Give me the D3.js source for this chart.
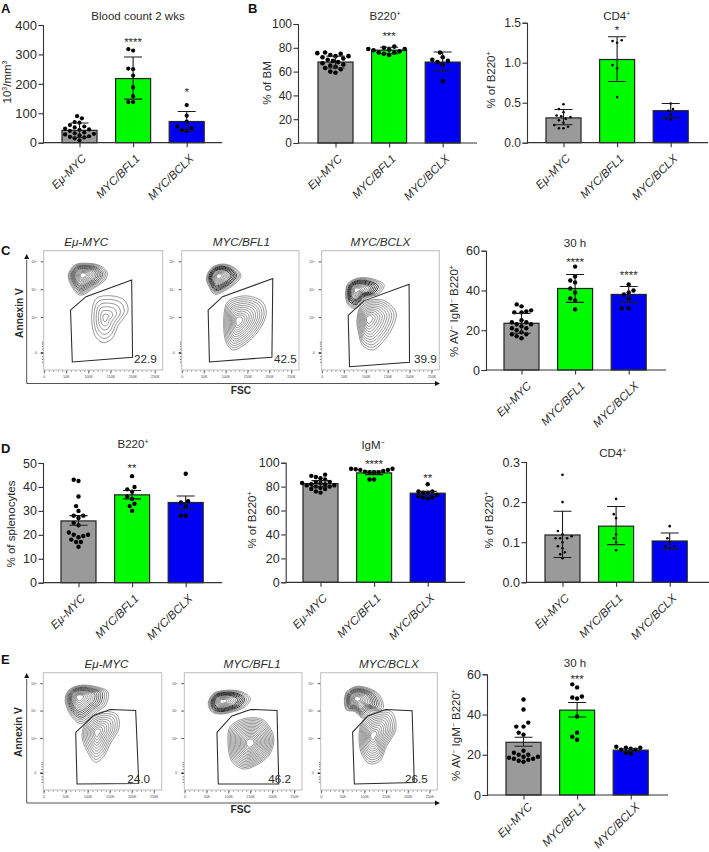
<!DOCTYPE html>
<html><head><meta charset="utf-8">
<script src="https://cdn.jsdelivr.net/npm/d3@7"></script>
<style>html,body{margin:0;padding:0;background:#fff}svg{display:block}text{font-family:"Liberation Sans",Arial,sans-serif;fill:#2a2a2a}</style>
</head><body><svg id="c" width="709" height="852"></svg>
<script>
// ---------- bar chart data ----------
const categories=["Eμ-MYC","MYC/BFL1","MYC/BCLX"];
const barColors=["#9a9a9a","#00fa00","#0000f5"];

const aMean=[42,218,72], aLow=[18,148,40], aHigh=[67,291,106];
const aGray=[90,83,70,68,60,55,52,48,45,44,40,35,32,30,28,25,22,20,18,15,8];
const aGreen=[318,313,252,250,228,188,158,138,138];
const aBlue=[128,92,72,55,50,42,40];

const b1Mean=[68,78,68], b1Low=[63,75,60.5], b1High=[73,80.5,76.5];
const b1Gray=[76,75.5,75,74,73,73,72,71,70,69,68,67,66,65,64,63,62,60,59];
const b1Green=[81,80,79,79,78.5,78,77,76,76,75,74];
const b1Blue=[76,72,70,69,68,66,52];

const b2Mean=[0.31,1.04,0.40], b2Low=[0.225,0.765,0.31], b2High=[0.415,1.325,0.49];
const b2Gray=[0.48,0.42,0.38,0.34,0.33,0.32,0.30,0.28,0.25,0.22,0.2,0.18,0.18];
const b2Green=[1.28,1.27,1.25,0.97,0.93,0.57];
const b2Blue=[0.49,0.42,0.40,0.35,0.30,0.29];

const cMean=[23.5,41,38], cLow=[18.5,34,34], cHigh=[28.5,48,42];
const cGray=[33,32,30,29.5,29,29,25,24,24,23,23,22,21,21,20,19,18,18,17,16];
const cGreen=[52,47,45,44,41,39,36,35,30.5];
const cBlue=[43,40,39,38,36,31,31];

const d1Mean=[25.8,36.7,33.5], d1Low=[24,35,31], d1High=[28,38.5,36.2];
const d1Gray=[43,42.5,36,32,30,28,28,27,25,24,21,20,20,19.5,19,18,17,17,15];
const d1Green=[44.5,40,39,38,36,35,33,32,30];
const d1Blue=[45.5,34,33.5,32,28,28];

const d2Mean=[82.5,91.5,74.5], d2Low=[80,90,73], d2High=[85,93,76];
const d2Gray=[90,89,88,87,86,84,84,83,83,82,82,81,81,80,80,79,78,78,76,75];
const d2Green=[95,95,94.5,94,94,93,92.5,92,92,92,86,86];
const d2Blue=[82,76,76,75,75,73,72,71,71,70];

const d3Mean=[0.118,0.14,0.103], d3Low=[0.062,0.094,0.084], d3High=[0.177,0.189,0.123];
const d3Gray=[0.268,0.2,0.128,0.12,0.115,0.11,0.11,0.11,0.10,0.09,0.085,0.075,0.07,0.06];
const d3Green=[0.208,0.17,0.16,0.12,0.11,0.10,0.08];
const d3Blue=[0.14,0.11,0.10,0.09,0.09,0.085];

const eMean=[26.2,42.2,22.3], eLow=[24.2,38.8,21.5], eHigh=[28.7,46,23];
const eGray=[47.5,42.5,36,34,34,31,30,22,21,20,20,19,19,18.5,18,18,17.5,17,16.5];
const eGreen=[55,53.5,49,48.5,48,39,31,29,27.5];
const eBlue=[24,23.5,23.5,23,22.5,22.5,21,20.5];

// ---------- flow cytometry data: [FSC in K, log10 Annexin V] ----------
const fscTicks=[0,50,100,150,200,250];
const fscTickLabels=["0","50K","100K","150K","200K","250K"];
const avTicks=[5,4,3,1.73];

const c1Gate=[[59,3.27],[94,3.75],[197,4.35],[199,1.58],[63,1.41]];
const c1Up=[[54,4.53],[69,4.89],[97,4.95],[126,4.86],[142,4.61],[137,4.35],[111,4.05],[80,3.81],[62,4.11]];
const c1UpC=[86,4.53];
const c1Lo=[[107,3.14],[118,3.69],[152,3.78],[180,3.63],[189,3.27],[167,2.72],[152,2.24],[133,2.10],[114,2.36]];
const c1LoC=[137,3.0];

const c2Gate=[[59,3.27],[92,3.75],[207,4.4],[205,1.58],[62,1.41]];
const c2Up=[[55,4.41],[66,4.77],[89,4.92],[115,4.83],[134,4.53],[126,4.29],[100,3.99],[74,3.84],[61,4.11]];
const c2UpC=[83,4.5];
const c2Lo=[[95,3.02],[104,3.57],[145,3.78],[183,3.57],[192,3.14],[175,2.54],[145,2.06],[115,1.84],[100,2.12]];
const c2LoC=[128,2.88];

const c3Gate=[[59,3.08],[95,3.6],[198,4.2],[199,1.4],[62,1.24]];
const c3Up=[[53,3.87],[59,4.23],[85,4.43],[123,4.35],[141,4.17],[130,3.87],[100,3.69],[77,3.33],[59,3.45]];
const c3UpC=[77,3.99];
const c3Lo=[[79,2.96],[92,3.51],[138,3.63],[168,3.2],[164,2.78],[141,2.18],[115,1.84],[92,2.0],[83,2.42]];
const c3LoC=[105,2.96];

const e1Gate=[[72,3.22],[113,3.84],[150,4.06],[208,4.02],[215,1.36],[75,1.34]];
const e1Up=[[48,4.4],[56,4.76],[82,4.94],[121,4.88],[145,4.7],[140,4.22],[121,3.98],[105,3.74],[82,3.55],[60,3.86]];
const e1UpC=[79,4.52];
const e1Lo=[[86,3.13],[99,3.67],[136,3.98],[166,3.86],[170,3.37],[151,2.83],[136,2.35],[117,2.13],[98,2.53]];
const e1LoC=[120,3.23];

const e2Gate=[[73,3.22],[107,3.82],[150,4.06],[210,4.02],[214,1.34],[76,1.34]];
const e2Up=[[53,4.28],[65,4.64],[95,4.76],[130,4.7],[149,4.46],[137,4.16],[111,3.98],[80,3.89],[61,3.98]];
const e2UpC=[85,4.36];
const e2Lo=[[98,2.95],[103,3.43],[137,3.73],[179,3.67],[202,3.07],[195,2.47],[172,2.11],[134,1.89],[107,2.17]];
const e2LoC=[149,2.83];

const e3Gate=[[72,3.23],[107,3.82],[148,4.06],[209,4.01],[214,1.39],[76,1.34]];
const e3Up=[[53,4.34],[58,4.7],[81,4.9],[111,4.82],[134,4.58],[142,4.1],[115,3.98],[96,3.74],[77,3.98],[58,4.04]];
const e3UpC=[81,4.46];
const e3Lo=[[87,3.19],[96,3.67],[127,3.98],[161,3.98],[172,3.37],[150,2.71],[134,2.17],[111,2.08],[92,2.47]];
const e3LoC=[119,3.11];

// ---------- drawing ----------
const svg=d3.select("#c");

function rich(sel,parts,base){
  parts.forEach(p=>{
    const t=sel.append("tspan").text(p.t);
    if(p.sup){t.attr("font-size",base*0.6).attr("dy",-base*0.35);}
    else if(p.after){t.attr("dy",base*0.35);}
  });
}
const sup=(t)=>({t,sup:true});
const nrm=(t)=>({t,after:true});

function swarm(vals,y,x0,sep){
  const placed=[];
  [...vals].sort((a,b)=>a-b).forEach(v=>{
    const py=y(v);
    let off=0,k=0;
    while(placed.some(p=>Math.hypot(p.x-(x0+off),p.y-py)<sep)){
      k++; off=(k%2?-1:1)*Math.ceil(k/2)*sep*0.5;
    }
    placed.push({x:x0+off,y:py});
  });
  return placed;
}

function barPanel(o){
  const g=svg.append("g");
  const y=d3.scaleLinear().domain(o.domain).range([o.y0,o.yTop]);
  const step=o.step||53.6;
  const x=d3.scalePoint().domain(categories).range([o.c,o.c+2*step]);
  const bw=35, fs=o.fs||11.5;

  categories.forEach((c,i)=>{
    g.append("rect").attr("x",x(c)-bw/2).attr("width",bw)
      .attr("y",y(o.mean[i])).attr("height",o.y0-y(o.mean[i]))
      .attr("fill",barColors[i]).attr("stroke","#222").attr("stroke-width",1.2);
  });
  const ya=g.append("g").attr("transform",`translate(${o.ax},0)`)
    .call(d3.axisLeft(y).tickValues(o.ticks).tickFormat(o.fmt).tickSize(4.5).tickPadding(1.5));
  ya.selectAll("text").attr("font-size",fs).style("font-family",'"Liberation Sans"');
  ya.selectAll("line,path").attr("stroke","#333").attr("stroke-width",1.1);
  const xa=g.append("g").attr("transform",`translate(0,${o.y0})`)
    .call(d3.axisBottom(x).tickSize(4.5));
  xa.select(".domain").remove();
  xa.selectAll("line").attr("stroke","#333").attr("stroke-width",1.1);
  xa.selectAll("text").attr("font-size",11.5).attr("font-style","italic")
    .attr("text-anchor","end").attr("dy",0).attr("y",0)
    .attr("transform",`translate(${7+(o.ldx||0)},${16.5+(o.ldy||0)}) rotate(-45)`);
  g.append("line").attr("x1",o.ax).attr("x2",o.xEnd).attr("y1",o.y0).attr("y2",o.y0)
    .attr("stroke","#333").attr("stroke-width",1.2);
  categories.forEach((c,i)=>{
    swarm(o.pts[i],y,x(c),o.sep).forEach(p=>{
      g.append("circle").attr("cx",p.x).attr("cy",p.y).attr("r",o.r).attr("fill","#000");
    });
  });
  categories.forEach((c,i)=>{
    const cap=9, xc=x(c);
    g.append("path").attr("fill","none").attr("stroke","#1a1a1a").attr("stroke-width",1.1)
      .attr("d",`M${xc-cap},${y(o.high[i])}H${xc+cap}M${xc},${y(o.high[i])}V${y(o.low[i])}M${xc-cap},${y(o.low[i])}H${xc+cap}`);
  });
  (o.sig||[]).forEach(s=>{
    g.append("text").attr("x",x(categories[s[0]])).attr("y",s[2]+6.5)
      .attr("text-anchor","middle").attr("font-size",11.5).text(s[1]);
  });
  const t=g.append("text").attr("x",o.tx).attr("y",o.ty).attr("text-anchor","middle").attr("font-size",11.5);
  rich(t,o.title,11.5);
  const yl=g.append("text").attr("text-anchor","middle").attr("font-size",11.5)
    .attr("transform",`translate(${o.lx},${o.ly}) rotate(-90)`);
  rich(yl,o.label,11.5);
}

barPanel({mean:aMean,low:aLow,high:aHigh,pts:[aGray,aGreen,aBlue],domain:[0,400],ticks:[0,100,200,300,400],
  ax:43,xEnd:222,y0:142.7,yTop:25,c:79.5,r:2.1,sep:4.8,fs:13,
  sig:[[1,"****",39],[2,"*",89]],title:[{t:"Blood count 2 wks"}],tx:138,ty:20,
  label:[{t:"10"},sup("3"),nrm("/mm"),sup("3")],lx:11,ly:82});
barPanel({mean:b1Mean,low:b1Low,high:b1High,pts:[b1Gray,b1Green,b1Blue],domain:[0,100],ticks:[0,20,40,60,80,100],
  ax:298,xEnd:477,y0:143,yTop:24,c:335.5,r:2.3,sep:5.2,fs:12,
  sig:[[1,"***",33]],title:[{t:"B220"},sup("+")],tx:385,ty:20,
  label:[{t:"% of BM"}],lx:271,ly:83});
barPanel({mean:b2Mean,low:b2Low,high:b2High,pts:[b2Gray,b2Green,b2Blue],domain:[0,1.5],ticks:[0,0.5,1,1.5],fmt:d3.format(".1f"),
  ax:527,xEnd:708,y0:142.7,yTop:22.7,c:563.5,r:1.3,sep:4.6,fs:12,
  sig:[[1,"*",27]],title:[{t:"CD4"},sup("+")],tx:616.7,ty:20,
  label:[{t:"% of B220"},sup("+")],lx:495,ly:80});
barPanel({mean:cMean,low:cLow,high:cHigh,pts:[cGray,cGreen,cBlue],domain:[0,60],ticks:[0,20,40,60],
  ax:486,xEnd:666,y0:370,yTop:250.7,c:521.5,r:2.2,sep:4.8,fs:12.5,ldx:3,
  sig:[[1,"****",259],[2,"****",272]],title:[{t:"30 h"}],tx:575,ty:247,
  label:[{t:"% AV"},sup("−"),nrm(" IgM"),sup("−"),nrm(" B220"),sup("+")],lx:458,ly:311});
barPanel({mean:d1Mean,low:d1Low,high:d1High,pts:[d1Gray,d1Green,d1Blue],domain:[0,50],ticks:[0,10,20,30,40,50],
  ax:43,xEnd:222,y0:582.7,yTop:463,c:78.5,r:2.2,sep:4.8,fs:12.5,
  sig:[[1,"**",465]],title:[{t:"B220"},sup("+")],tx:133,ty:448,
  label:[{t:"% of splenocytes"}],lx:15,ly:524});
barPanel({mean:d2Mean,low:d2Low,high:d2High,pts:[d2Gray,d2Green,d2Blue],domain:[0,100],ticks:[0,20,40,60,80,100],
  ax:285.7,xEnd:465,y0:582.3,yTop:462.7,c:320.5,r:2.2,sep:4.6,fs:12.5,
  sig:[[1,"****",461],[2,"**",475]],title:[{t:"IgM"},sup("−")],tx:373,ty:449,
  label:[{t:"% of B220"},sup("+")],lx:256,ly:520});
barPanel({mean:d3Mean,low:d3Low,high:d3High,pts:[d3Gray,d3Green,d3Blue],domain:[0,0.3],ticks:[0,0.1,0.2,0.3],fmt:d3.format(".1f"),
  ax:526,xEnd:709,y0:582.3,yTop:462,c:562.5,r:1.3,sep:4.6,fs:12.5,
  title:[{t:"CD4"},sup("+")],tx:612.7,ty:457,
  label:[{t:"% of B220"},sup("+")],lx:493,ly:520});
barPanel({mean:eMean,low:eLow,high:eHigh,pts:[eGray,eGreen,eBlue],domain:[0,60],ticks:[0,20,40,60],
  ax:487,xEnd:668,y0:795,yTop:674.3,c:523.5,r:2.2,sep:4.8,fs:12.5,ldx:2,ldy:-4,
  sig:[[1,"***",676]],title:[{t:"30 h"}],tx:575,ty:667,
  label:[{t:"% AV"},sup("−"),nrm(" IgM"),sup("−"),nrm(" B220"),sup("+")],lx:460,ly:735});

function flow(o){
  const g=svg.append("g");
  const x=d3.scaleLinear().domain([-1.5,267]).range([o.l,o.r]);
  const y=d3.scaleLinear().domain([1.12,5.4]).range([o.b,o.t]);
  g.append("rect").attr("x",o.l).attr("y",o.t).attr("width",o.r-o.l).attr("height",o.b-o.t)
    .attr("fill","#fff").attr("stroke","#bdbdbd").attr("stroke-width",1);

  const minor=d3.range(0,260,10);
  const xa=g.append("g").attr("transform",`translate(0,${o.b+0.5})`)
    .call(d3.axisBottom(x).tickValues(minor).tickSize(1.5).tickFormat(""));
  xa.select(".domain").remove(); xa.selectAll("line").attr("stroke","#444").attr("stroke-width",.5);
  fscTicks.forEach((v,i)=>{
    g.append("line").attr("x1",x(v)).attr("x2",x(v)).attr("y1",o.b+.5).attr("y2",o.b+3.5).attr("stroke","#333").attr("stroke-width",.7);
    g.append("text").attr("x",x(v)).attr("y",o.b+7.5).attr("text-anchor","middle").attr("font-size",3.6).style("fill","#444").text(fscTickLabels[i]);
  });
  const yLab=["5","4","3"];
  avTicks.forEach((v,i)=>{
    g.append("line").attr("x1",o.l-3).attr("x2",o.l-.5).attr("y1",y(v)).attr("y2",y(v)).attr("stroke","#222").attr("stroke-width",i==3?1.5:.8);
    const t=g.append("text").attr("x",o.l-7).attr("y",y(v)+1.2).attr("text-anchor","end").attr("font-size",3.6).style("fill","#444");
    if(i<3){t.append("tspan").text("10");t.append("tspan").attr("font-size",2.4).attr("dy",-1).text(yLab[i]);}
    else t.text("0");
  });
  const yMinor=[1.4,1.5,1.6,1.87,1.97,2.05,2.12];
  yMinor.forEach(v=>g.append("line").attr("x1",o.l-1.8).attr("x2",o.l-.5).attr("y1",y(v)).attr("y2",y(v)).attr("stroke","#333").attr("stroke-width",.7));

  const line=d3.line().curve(d3.curveCatmullRomClosed.alpha(.5));
  o.pops.forEach(p=>{
    const cx=x(p.c[0]),cy=y(p.c[1]);
    for(let i=0;i<p.n;i++){
      const t=1-0.84*i/(p.n-1);
      const dark=p.dark&&t<0.86&&t>0.5;
      const pts=p.o.map(q=>[cx+(x(q[0])-cx)*t,cy+(y(q[1])-cy)*t]);
      g.append("path").attr("d",line(pts)).attr("fill","none")
        .attr("stroke",dark?"#2e2e2e":"#444").attr("stroke-width",dark?(p.heavy?1:.75):.55);
    }
    if(p.dark) g.append("circle").attr("cx",cx).attr("cy",cy).attr("r",1.1).attr("fill","#fff");
  });
  g.append("path").attr("d",d3.line()(o.gate.map(q=>[x(q[0]),y(q[1])]))+"Z")
    .attr("fill","none").attr("stroke","#2a2a2a").attr("stroke-width",1.05);
  g.append("text").attr("x",o.r-o.ldx).attr("y",o.b-7).attr("text-anchor","end").attr("font-size",11.7).text(o.label);
  g.append("text").attr("x",(o.l+o.r)/2+o.tdx).attr("y",o.t-5).attr("text-anchor","middle").attr("font-size",11.7).attr("font-style","italic").text(o.title);
}
const C=[250.7,370], E=[672.7,790];
flow({l:43.7,r:162.7,t:C[0],b:C[1],gate:c1Gate,label:"22.9",ldx:6,title:categories[0],tdx:-17,
  pops:[{o:c1Up,c:c1UpC,n:14,dark:true},{o:c1Lo,c:c1LoC,n:6}]});
flow({l:181.7,r:299,t:C[0],b:C[1],gate:c2Gate,label:"42.5",ldx:2.3,title:categories[1],tdx:1,
  pops:[{o:c2Up,c:c2UpC,n:14,dark:true,heavy:true},{o:c2Lo,c:c2LoC,n:12}]});
flow({l:321.7,r:439.3,t:C[0],b:C[1],gate:c3Gate,label:"39.9",ldx:2.6,title:categories[2],tdx:0,
  pops:[{o:c3Up,c:c3UpC,n:13,dark:true,heavy:true},{o:c3Lo,c:c3LoC,n:11}]});
flow({l:43.3,r:161.7,t:E[0],b:E[1],gate:e1Gate,label:"24.0",ldx:11.7,title:categories[0],tdx:4,
  pops:[{o:e1Up,c:e1UpC,n:14,dark:true},{o:e1Lo,c:e1LoC,n:10}]});
flow({l:184.3,r:302,t:E[0],b:E[1],gate:e2Gate,label:"46.2",ldx:11,title:categories[1],tdx:9,
  pops:[{o:e2Up,c:e2UpC,n:14,dark:true,heavy:true},{o:e2Lo,c:e2LoC,n:16}]});
flow({l:320.7,r:437.3,t:E[0],b:E[1],gate:e3Gate,label:"26.5",ldx:9.6,title:categories[2],tdx:10,
  pops:[{o:e3Up,c:e3UpC,n:14,dark:true},{o:e3Lo,c:e3LoC,n:12}]});

function bigAxes(top,bottom,right,lx,ly,fx,fy){
  const g=svg.append("g");
  g.append("path").attr("fill","none").attr("stroke","#555").attr("stroke-width",1)
    .attr("d",`M26.7,${top+3}V${bottom}H${right-3}`);
  g.append("path").attr("fill","#111").attr("d",`M26.7,${top-3}l-2.5,5h5zM${right+2},${bottom}l-5,-2.5v5z`);
  g.append("text").attr("font-size",10.2).attr("font-weight","bold").attr("text-anchor","middle")
    .attr("transform",`translate(${lx},${ly}) rotate(-90)`).text("Annexin V");
  g.append("text").attr("font-size",10.2).attr("font-weight","bold").attr("text-anchor","middle")
    .attr("x",fx).attr("y",fy).text("FSC");
}
bigAxes(257,383.5,438,23,313,241,394);
bigAxes(676,803,438,22,732,240.7,813);

[["A",1,13],["B",248,13],["C",1,255],["D",1,453],["E",1,664]].forEach(d=>{
  svg.append("text").attr("x",d[1]).attr("y",d[2]).attr("font-size",13).attr("font-weight","bold").style("fill","#111").text(d[0]);
});
</script></body></html>
